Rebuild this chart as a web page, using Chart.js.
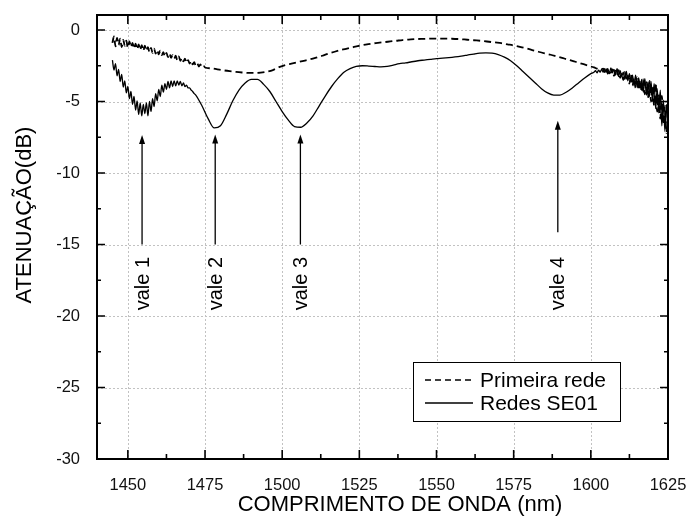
<!DOCTYPE html>
<html>
<head>
<meta charset="utf-8">
<script src="https://cdn.jsdelivr.net/npm/chart.js@4.4.1/dist/chart.umd.min.js"></script>
<style>
  body { margin: 0; background: #fff; }
</style>
</head>
<body>
<canvas id="myChart" width="689" height="519"></canvas>
<script>
// tick labels
const xTicks = [1450, 1475, 1500, 1525, 1550, 1575, 1600, 1625];
const yTicks = [-30, -25, -20, -15, -10, -5, 0];

// "Primeira rede" (dashed) - [wavelength nm, dB]
const primeira = [
  [1445, -0.9], [1445.5, -0.45], [1446, -1.15], [1446.5, -0.55], [1447, -1.05], [1447.5, -0.6], [1448, -1.2], [1448.5, -0.7],
  [1449, -1.1], [1449.5, -0.75], [1450, -1.25], [1450.5, -0.8], [1451, -1.2], [1451.5, -0.9], [1452, -1.3], [1452.5, -0.95],
  [1453, -1.35], [1453.5, -1.0], [1454, -1.4], [1454.5, -1.05], [1455, -1.45], [1455.5, -1.1], [1456, -1.45], [1456.5, -1.2],
  [1457, -1.55], [1457.5, -1.25], [1458, -1.6], [1458.5, -1.3], [1459, -1.65], [1459.5, -1.4], [1460, -1.7], [1460.5, -1.45],
  [1461, -1.75], [1461.5, -1.55], [1462, -1.85], [1462.5, -1.6], [1463, -1.9], [1463.5, -1.65], [1464, -1.95], [1464.5, -1.75],
  [1465, -2.0], [1465.5, -1.8], [1466, -2.1], [1466.5, -1.85], [1467, -2.15], [1467.5, -1.95], [1468, -2.2], [1468.5, -2.0],
  [1469, -2.3], [1469.5, -2.1], [1470, -2.35], [1470.5, -2.15], [1471, -2.4], [1471.5, -2.25], [1472, -2.5], [1472.5, -2.35],
  [1473, -2.55], [1473.5, -2.4], [1474, -2.6], [1474.5, -2.5], [1475, -2.62],
  [1477, -2.68], [1479, -2.75], [1481, -2.82], [1483, -2.88], [1485, -2.93], [1487, -2.97], [1489, -3.0], [1491, -3.0],
  [1493, -2.98], [1495, -2.92], [1497, -2.8], [1499, -2.6], [1501, -2.45], [1503, -2.35], [1505, -2.25], [1507, -2.15],
  [1509, -2.05], [1511, -1.93], [1513, -1.8], [1515, -1.65], [1517, -1.52], [1519, -1.4], [1521, -1.3], [1523, -1.2],
  [1525, -1.1], [1527, -1.02], [1529, -0.95], [1531, -0.9], [1533, -0.85], [1535, -0.8], [1537, -0.75], [1539, -0.7],
  [1541, -0.67], [1543, -0.64], [1545, -0.62], [1547, -0.61], [1549, -0.6], [1551, -0.6], [1553, -0.6], [1555, -0.61],
  [1557, -0.63], [1559, -0.66], [1561, -0.7], [1563, -0.73], [1565, -0.77], [1567, -0.82], [1569, -0.87], [1571, -0.92],
  [1573, -1.0], [1575, -1.08], [1577, -1.18], [1579, -1.28], [1581, -1.4], [1583, -1.52], [1585, -1.63], [1587, -1.73],
  [1589, -1.85], [1591, -1.97], [1593, -2.1], [1595, -2.22], [1597, -2.35], [1599, -2.48], [1601, -2.62], [1603, -2.75],
  [1604, -2.7], [1604.5, -2.95], [1605, -2.65], [1605.5, -3.05], [1606, -2.8], [1606.5, -3.0], [1607, -2.75], [1607.5, -3.2],
  [1608, -2.85], [1608.5, -3.15], [1609, -2.8], [1609.5, -3.35], [1610, -3.0], [1610.5, -3.5], [1611, -2.95], [1611.5, -3.55],
  [1612, -3.2], [1612.5, -3.75], [1613, -3.1], [1613.5, -3.9], [1614, -3.35], [1614.5, -4.05], [1615, -3.3], [1615.5, -4.2],
  [1616, -3.5], [1616.5, -4.35], [1617, -3.45], [1617.5, -4.5], [1618, -3.65], [1618.5, -4.75], [1619, -3.55], [1619.5, -5.0],
  [1620, -3.9], [1620.5, -5.3], [1621, -3.7], [1621.5, -5.7], [1622, -4.5], [1622.5, -6.2], [1623, -4.6], [1623.5, -6.6],
  [1624, -5.3], [1624.5, -7.2], [1625, -6.0]
];

// "Redes SE01" (solid)
const redes = [
  [1445, -2.1], [1445.5, -2.8], [1446, -2.35], [1446.5, -3.2], [1447, -2.75], [1447.5, -3.6], [1448, -3.1], [1448.5, -4.0],
  [1449, -3.55], [1449.5, -4.4], [1450, -3.95], [1450.5, -4.8], [1451, -4.3], [1451.5, -5.2], [1452, -4.65], [1452.5, -5.6],
  [1453, -4.95], [1453.5, -5.9], [1454, -5.1], [1454.5, -6.0], [1455, -5.2], [1455.5, -5.85], [1456, -5.1], [1456.5, -6.0],
  [1457, -5.0], [1457.5, -5.7], [1458, -4.8], [1458.5, -5.35], [1459, -4.45], [1459.5, -4.95], [1460, -4.15], [1460.5, -4.65],
  [1461, -3.85], [1461.5, -4.35], [1462, -3.75], [1462.5, -4.15], [1463, -3.6], [1463.5, -4.05], [1464, -3.55], [1464.5, -3.95],
  [1465, -3.55], [1465.5, -3.9], [1466, -3.55], [1466.5, -3.85], [1467, -3.6], [1467.5, -3.9], [1468, -3.7], [1468.5, -3.95],
  [1469, -3.85], [1469.5, -4.05], [1470, -4.05], [1470.5, -4.2], [1471, -4.3], [1471.5, -4.45], [1472, -4.55],
  [1474, -5.3], [1476, -6.2], [1478, -6.85], [1480, -6.7], [1482, -5.9], [1484, -4.95], [1486, -4.2], [1488, -3.7],
  [1490, -3.45], [1492, -3.45], [1494, -3.8], [1496, -4.3], [1498, -5.0], [1500, -5.7], [1502, -6.3], [1504, -6.75],
  [1506, -6.8], [1508, -6.5], [1510, -6.0], [1512, -5.3], [1514, -4.6], [1516, -3.95], [1518, -3.4], [1520, -2.95],
  [1522, -2.7], [1524, -2.55], [1526, -2.5], [1528, -2.52], [1530, -2.55], [1532, -2.58], [1534, -2.55], [1536, -2.45],
  [1538, -2.35], [1540, -2.3], [1542, -2.22], [1544, -2.15], [1546, -2.1], [1548, -2.05], [1550, -2.0], [1552, -1.97],
  [1554, -1.93], [1556, -1.88], [1558, -1.82], [1560, -1.75], [1562, -1.68], [1564, -1.62], [1566, -1.6], [1568, -1.62],
  [1570, -1.72], [1572, -1.9], [1574, -2.15], [1576, -2.5], [1578, -2.9], [1580, -3.3], [1582, -3.7], [1584, -4.1],
  [1586, -4.4], [1588, -4.55], [1590, -4.55], [1592, -4.35], [1594, -4.05], [1596, -3.7], [1598, -3.35], [1600, -3.05],
  [1601, -2.95], [1601.5, -2.85], [1602, -3.0], [1602.5, -2.8], [1603, -2.95], [1603.5, -2.75], [1604, -2.95], [1604.5, -2.7],
  [1605, -2.95], [1605.5, -2.7], [1606, -3.05], [1606.5, -2.65], [1607, -3.0], [1607.5, -2.75], [1608, -3.15], [1608.5, -2.7],
  [1609, -3.25], [1609.5, -2.85], [1610, -3.25], [1610.5, -2.95], [1611, -3.45], [1611.5, -2.9], [1612, -3.55], [1612.5, -3.05],
  [1613, -3.65], [1613.5, -3.15], [1614, -3.85], [1614.5, -3.15], [1615, -4.0], [1615.5, -3.35], [1616, -4.05], [1616.5, -3.45],
  [1617, -4.35], [1617.5, -3.4], [1618, -4.55], [1618.5, -3.65], [1619, -4.65], [1619.5, -3.6], [1620, -5.0], [1620.5, -3.75],
  [1621, -5.5], [1621.5, -4.1], [1622, -5.8], [1622.5, -4.2], [1623, -6.7], [1623.5, -4.9], [1624, -7.1], [1624.5, -5.2],
  [1625, -6.8]
];

// valley annotations
const valeLabels = ['vale 1', 'vale 2', 'vale 3', 'vale 4'];
const valeWl = [1454.6, 1478.3, 1505.9, 1589.3];
const valeTip = [-7.35, -7.3, -7.3, -6.35];
const valeTail = [-15.0, -15.0, -15.0, -14.15];
const valeText = [-19.6, -19.6, -19.6, -19.6];

const FONT = "'Liberation Sans', Arial, sans-serif";

const decor = {
    id: 'decor',
    beforeDatasetsDraw(chart) {
        // dotted grid at major ticks
        const { ctx, chartArea: a, scales: { x, y } } = chart;
        ctx.save();
        ctx.strokeStyle = '#c2c2c2';
        ctx.lineWidth = 1;
        ctx.setLineDash([2, 2]);
        xTicks.forEach(v => {
            const px = Math.round(x.getPixelForValue(v)) + 0.5;
            ctx.beginPath(); ctx.moveTo(px, a.top); ctx.lineTo(px, a.bottom); ctx.stroke();
        });
        yTicks.forEach(v => {
            const py = Math.round(y.getPixelForValue(v)) + 0.5;
            ctx.beginPath(); ctx.moveTo(a.left, py); ctx.lineTo(a.right, py); ctx.stroke();
        });
        ctx.restore();
    },
    afterDraw(chart) {
        const { ctx, chartArea: a, scales: { x, y } } = chart;
        ctx.save();

        // frame
        ctx.strokeStyle = '#000';
        ctx.lineWidth = 2;
        ctx.setLineDash([]);
        ctx.strokeRect(a.left, a.top, a.right - a.left, a.bottom - a.top);

        // inward ticks, all four sides
        ctx.lineWidth = 1.6;
        const tickX = (v, len) => {
            const px = x.getPixelForValue(v);
            ctx.beginPath();
            ctx.moveTo(px, a.bottom); ctx.lineTo(px, a.bottom - len);
            ctx.moveTo(px, a.top); ctx.lineTo(px, a.top + len);
            ctx.stroke();
        };
        const tickY = (v, len) => {
            const py = y.getPixelForValue(v);
            ctx.beginPath();
            ctx.moveTo(a.left, py); ctx.lineTo(a.left + len, py);
            ctx.moveTo(a.right, py); ctx.lineTo(a.right - len, py);
            ctx.stroke();
        };
        xTicks.forEach((v, i) => {
            tickX(v, 9);
            if (i < xTicks.length - 1) tickX((v + xTicks[i + 1]) / 2, 5);
        });
        yTicks.forEach((v, i) => {
            tickY(v, 8);
            if (i < yTicks.length - 1) tickY((v + yTicks[i + 1]) / 2, 4);
        });

        // arrows + labels
        ctx.fillStyle = '#000';
        ctx.lineWidth = 1.3;
        valeLabels.forEach((lab, i) => {
            const px = x.getPixelForValue(valeWl[i]);
            const tip = y.getPixelForValue(valeTip[i]);
            const tail = y.getPixelForValue(valeTail[i]);
            ctx.beginPath();
            ctx.moveTo(px, tail); ctx.lineTo(px, tip + 6);
            ctx.stroke();
            ctx.beginPath();
            ctx.moveTo(px, tip);
            ctx.lineTo(px - 3, tip + 9);
            ctx.lineTo(px + 3, tip + 9);
            ctx.closePath();
            ctx.fill();

            ctx.save();
            ctx.translate(px, y.getPixelForValue(valeText[i]));
            ctx.rotate(-Math.PI / 2);
            ctx.font = '20px ' + FONT;
            ctx.textAlign = 'left';
            ctx.textBaseline = 'middle';
            ctx.fillText(lab, 0, 1);
            ctx.restore();
        });

        // legend box
        const lx = a.right - 255, ly = a.bottom - 97, lw = 207, lh = 59;
        ctx.fillStyle = '#fff';
        ctx.fillRect(lx, ly, lw, lh);
        ctx.strokeStyle = '#000';
        ctx.lineWidth = 1;
        ctx.strokeRect(lx + 0.5, ly + 0.5, lw, lh);
        chart.data.datasets.forEach((ds, i) => {
            const cy = ly + 18 + i * 23;
            ctx.beginPath();
            ctx.setLineDash(ds.label === 'Primeira rede' ? [6, 4] : []);
            ctx.lineWidth = 1.3;
            ctx.moveTo(lx + 12, cy); ctx.lineTo(lx + 60, cy);
            ctx.stroke();
            ctx.setLineDash([]);
            ctx.fillStyle = '#000';
            ctx.font = '21px ' + FONT;
            ctx.textAlign = 'left';
            ctx.textBaseline = 'middle';
            ctx.fillText(ds.label, lx + 67, cy + 1);
        });

        // axis titles
        ctx.font = '22px ' + FONT;
        ctx.textAlign = 'center';
        ctx.textBaseline = 'middle';
        ctx.fillText('COMPRIMENTO DE ONDA (nm)', 400, 505);
        ctx.save();
        ctx.translate(25, 215);
        ctx.rotate(-Math.PI / 2);
        ctx.fillText('ATENUAÇÃO(dB)', 0, 0);
        ctx.restore();

        ctx.restore();
    }
};

const ctx = document.getElementById('myChart');

new Chart(ctx, {
    type: 'line',
    data: {
        datasets: [{
            label: 'Primeira rede',
            data: primeira.map(p => ({ x: p[0], y: p[1] })),
            borderColor: '#000',
            borderWidth: 1.8,
            borderDash: [7, 4],
            pointRadius: 0,
            cubicInterpolationMode: 'monotone'
        }, {
            label: 'Redes SE01',
            data: redes.map(p => ({ x: p[0], y: p[1] })),
            borderColor: '#000',
            borderWidth: 1.3,
            pointRadius: 0,
            cubicInterpolationMode: 'monotone'
        }]
    },
    options: {
        responsive: false,
        animation: false,
        devicePixelRatio: 1,
        layout: { padding: { top: 15, right: 21, left: 0, bottom: 0 } },
        plugins: { legend: { display: false }, tooltip: { enabled: false } },
        scales: {
            x: {
                type: 'linear',
                min: 1440,
                max: 1625,
                afterBuildTicks: s => { s.ticks = xTicks.map(v => ({ value: v })); },
                afterFit: s => { s.height = 60; s.paddingLeft = 0; s.paddingRight = 0; },
                grid: { display: false },
                border: { display: false },
                ticks: { padding: 9, color: '#111', font: { family: FONT, size: 16.5 }, maxRotation: 0, callback: v => String(v) }
            },
            y: {
                min: -30,
                max: 1.05,
                afterBuildTicks: s => { s.ticks = yTicks.map(v => ({ value: v })); },
                afterFit: s => { s.width = 97; s.paddingTop = 0; s.paddingBottom = 0; },
                grid: { display: false },
                border: { display: false },
                ticks: { padding: 9, color: '#111', font: { family: FONT, size: 16.5 }, callback: v => String(v) }
            }
        }
    },
    plugins: [decor]
});
</script>
</body>
</html>
